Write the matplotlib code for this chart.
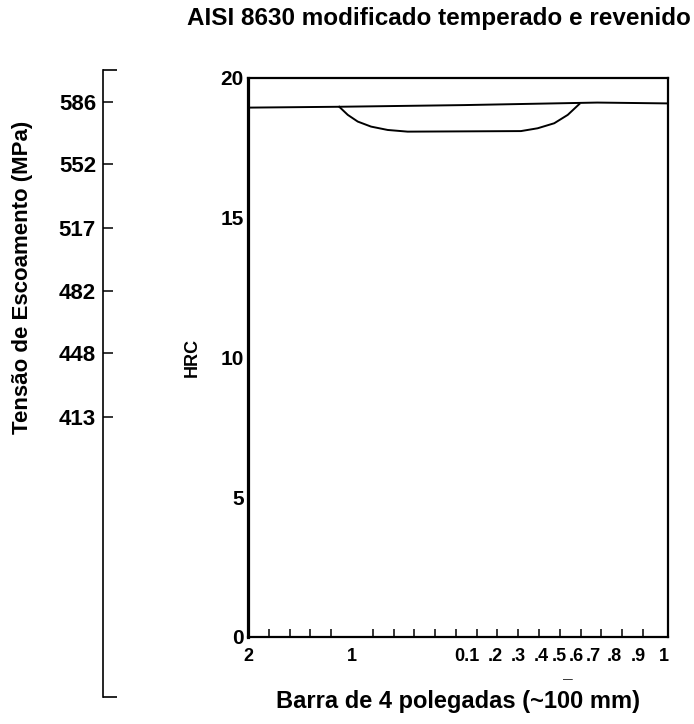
import numpy as np
import matplotlib
matplotlib.use("Agg")
import matplotlib.pyplot as plt
from matplotlib.ticker import FixedLocator

plt.rcParams['font.family'] = ['Liberation Sans', 'DejaVu Sans']

# upper (surface) line and the lower dip curve, x in tick-index units (0..20)
top_x = [0.1, 4.39, 10.4, 16.8, 20.2]
top_hrc = [18.94, 18.97, 19.03, 19.12, 19.09]

dip_x = [4.39, 4.80, 5.28, 5.92, 6.72, 7.68, 13.13, 13.93, 14.73, 15.38, 15.94]
dip_hrc = [18.97, 18.68, 18.44, 18.26, 18.14, 18.08, 18.10, 18.20, 18.38, 18.68, 19.07]

# x tick labels and where they sit along the bar
xlab_pos = [0, 5, 10.53, 11.88, 12.98, 14.1, 14.98, 15.8, 16.6, 17.6, 18.75, 20]
xlab_txt = ["2", "1", "0.1", ".2", ".3", ".4", ".5", ".6", ".7", ".8", ".9", "1"]
hrc_ticks = [0, 5, 10, 15, 20]

# yield strength scale on the left
mpa_ticks = [413, 448, 482, 517, 552, 586]
mpa_lim = (259.2, 603.6)

fig = plt.figure(figsize=(6.94, 7.24), dpi=100)

ax = fig.add_axes([0.3573, 0.1202, 0.6052, 0.7721])
ax.plot(top_x, top_hrc, color="black", lw=1.4, solid_capstyle="round")
ax.plot(dip_x, dip_hrc, color="black", lw=1.4, solid_joinstyle="round")
ax.set_xlim(0, 20.2)
ax.set_ylim(0, 20)

for side in ["top", "right", "bottom"]:
    ax.spines[side].set_linewidth(1.6)
ax.spines["left"].set_linewidth(2.3)

ax.set_yticks(hrc_ticks)
ax.set_yticklabels([str(v) for v in hrc_ticks], fontsize=15, fontweight="bold")
ax.tick_params(axis="y", length=0, pad=3)

ax.set_xticks(xlab_pos)
ax.set_xticklabels(xlab_txt, fontsize=13, fontweight="bold")
ax.xaxis.set_minor_locator(FixedLocator(np.arange(1, 20)))
ax.tick_params(axis="x", which="major", length=0, pad=8)
ax.tick_params(axis="x", which="minor", direction="in", length=6, width=1.1)

ax.set_ylabel("HRC", fontsize=13, fontweight="bold", labelpad=14)
ax.set_xlabel("Barra de 4 polegadas (~100 mm)", fontsize=17, fontweight="bold", labelpad=18)

# small dash below the .5 label
ax.text(15.4, -0.075, "\u2014", transform=ax.get_xaxis_transform(),
        ha="center", va="center", fontsize=7)

# secondary MPa axis
ax2 = fig.add_axes([0.1484, 0.0373, 0.0001, 0.866])
for side in ["top", "right", "bottom"]:
    ax2.spines[side].set_visible(False)
ax2.spines["left"].set_linewidth(1.2)
ax2.set_xticks([])
ax2.set_ylim(*mpa_lim)
ax2.set_yticks(mpa_ticks)
ax2.set_yticklabels([str(v) for v in mpa_ticks], fontsize=16, fontweight="bold")
ax2.yaxis.set_minor_locator(FixedLocator(list(mpa_lim)))
ax2.tick_params(axis="y", which="major", direction="in", length=7, width=1.1, pad=5)
ax2.tick_params(axis="y", which="minor", direction="in", length=10, width=1.2)

fig.text(0.032, 0.617, "Tensão de Escoamento (MPa)", rotation=90,
         ha="center", va="center", fontsize=16, fontweight="bold")

fig.suptitle("AISI 8630 modificado temperado e revenido", x=0.633, y=0.974,
             va="center", fontsize=17.5, fontweight="bold")

fig.savefig("out.png", dpi=100)
